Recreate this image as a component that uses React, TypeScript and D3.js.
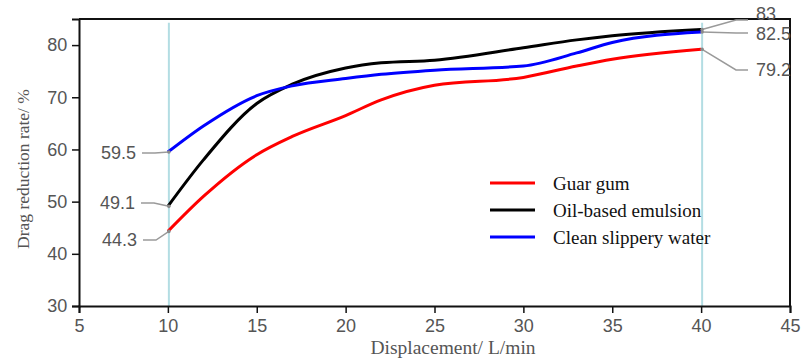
import React, { useEffect, useRef } from "react";
import * as d3 from "d3";

const flows = [10, 12, 15, 17, 20, 22, 25, 30, 33, 35, 40];
const guarGum = [44.3, 51, 59, 62.5, 66.5, 69.5, 72.3, 73.8, 76, 77.3, 79.2];
const oilEmulsion = [49.1, 58, 68.8, 72.5, 75.6, 76.6, 77.1, 79.5, 81, 81.8, 83];
const slipperyWater = [59.5, 64.5, 70.3, 72.2, 73.6, 74.4, 75.2, 76, 78.5, 80.5, 82.5];

const seriesNames = ["Guar gum", "Oil-based emulsion", "Clean slippery water"];
const seriesColors = ["#ff0000", "#000000", "#0000ff"];
const xTicks = [5, 10, 15, 20, 25, 30, 35, 40, 45];
const yTicks = [30, 40, 50, 60, 70, 80];
const markerFlows = [10, 40];

const W = 806;
const H = 358;

const App: React.FC = () => {
  const ref = useRef<SVGSVGElement>(null);

  useEffect(() => {
    if (!ref.current) return;
    const svg = d3.select(ref.current);
    svg.selectAll("*").remove();

    const x = d3.scaleLinear().domain([5, 45]).range([79, 790]);
    const y = d3.scaleLinear().domain([30, 85]).range([306, 19]);
    const all = [guarGum, oilEmulsion, slipperyWater];

    // frame (top + right)
    svg.append("path")
      .attr("d", `M${x(5)},${y(85)}H${x(45)}V${y(30)}`)
      .attr("fill", "none")
      .attr("stroke", "#111")
      .attr("stroke-width", 2);

    // light blue markers at 10 and 40
    svg.selectAll("line.mark")
      .data(markerFlows)
      .enter()
      .append("line")
      .attr("x1", (d) => x(d) + 1)
      .attr("x2", (d) => x(d) + 1)
      .attr("y1", y(84.3))
      .attr("y2", y(30))
      .attr("stroke", "#b3dde3")
      .attr("stroke-width", 2);

    const fontTick = "Arial, 'Liberation Sans', sans-serif";
    const fontTitle = "'Times New Roman', 'Liberation Serif', serif";

    const gx = svg.append("g")
      .attr("transform", `translate(0,${y(30)})`)
      .call(d3.axisBottom(x).tickValues(xTicks).tickSize(7).tickFormat(d3.format("d")));
    const gy = svg.append("g")
      .attr("transform", `translate(${x(5)},0)`)
      .call(d3.axisLeft(y).tickValues(yTicks).tickSize(7).tickFormat(d3.format("d")));
    [gx, gy].forEach((g) => {
      g.select(".domain").attr("stroke", "#111").attr("stroke-width", 2);
      g.selectAll(".tick line").attr("stroke", "#111").attr("stroke-width", 1.5);
      g.selectAll(".tick text")
        .attr("fill", "#555")
        .style("font-family", fontTick)
        .style("font-size", "18px");
    });
    gx.selectAll(".tick text").attr("dy", "0.9em");
    gy.selectAll(".tick text").attr("dx", "-0.1em");

    svg.append("text")
      .attr("x", 453)
      .attr("y", 354)
      .attr("text-anchor", "middle")
      .attr("fill", "#555")
      .style("font-family", fontTitle)
      .style("font-size", "19.5px")
      .text("Displacement/ L/min");

    svg.append("text")
      .attr("transform", "translate(29,169) rotate(-90)")
      .attr("text-anchor", "middle")
      .attr("fill", "#555")
      .style("font-family", fontTitle)
      .style("font-size", "17.5px")
      .text("Drag reduction rate/ %");

    const line = d3.line<number>()
      .x((_, i) => x(flows[i]))
      .y((d) => y(d))
      .curve(d3.curveMonotoneX);

    svg.selectAll("path.series")
      .data(all)
      .enter()
      .append("path")
      .attr("d", (d) => line(d))
      .attr("fill", "none")
      .attr("stroke", (_, i) => seriesColors[i])
      .attr("stroke-width", 3);

    // value callouts
    const callouts = [
      { v: guarGum[0], f: 10, lx: 143, ly: 240, ty: 240, text: "44.3", side: "left" },
      { v: oilEmulsion[0], f: 10, lx: 141, ly: 203, ty: 203, text: "49.1", side: "left" },
      { v: slipperyWater[0], f: 10, lx: 142, ly: 153, ty: 153, text: "59.5", side: "left" },
      { v: guarGum[guarGum.length - 1], f: 40, lx: 748, ly: 70, ty: 70, text: "79.2", side: "right" },
      { v: oilEmulsion[oilEmulsion.length - 1], f: 40, lx: 748, ly: 20, ty: 14, text: "83", side: "right" },
      { v: slipperyWater[slipperyWater.length - 1], f: 40, lx: 748, ly: 33, ty: 34, text: "82.5", side: "right" },
    ];
    callouts.forEach((c) => {
      const px = x(c.f) + 1;
      const py = y(c.v);
      const knee = c.side === "left" ? c.lx + 13 : c.lx - 12;
      svg.append("path")
        .attr("d", `M${px},${py}L${knee},${c.ly}L${c.lx},${c.ly}`)
        .attr("fill", "none")
        .attr("stroke", "#9a9a9a")
        .attr("stroke-width", 1.5);
      svg.append("circle")
        .attr("cx", px)
        .attr("cy", py)
        .attr("r", 1.8)
        .attr("fill", "#8a8a8a");
      svg.append("text")
        .attr("x", c.side === "left" ? c.lx - 6 : c.lx + 8)
        .attr("y", c.ty)
        .attr("dy", "0.35em")
        .attr("text-anchor", c.side === "left" ? "end" : "start")
        .attr("fill", "#555")
        .style("font-family", fontTick)
        .style("font-size", "18px")
        .text(c.text);
    });

    // legend
    const legend = svg.append("g").attr("transform", "translate(490,183)");
    seriesNames.forEach((name, i) => {
      const row = legend.append("g").attr("transform", `translate(0,${i * 27})`);
      row.append("line")
        .attr("x1", 0)
        .attr("x2", 45)
        .attr("stroke", seriesColors[i])
        .attr("stroke-width", 3);
      row.append("text")
        .attr("x", 63)
        .attr("dy", "0.35em")
        .attr("fill", "#111")
        .style("font-family", fontTitle)
        .style("font-size", "19px")
        .text(name);
    });
  }, []);

  return (
    <svg
      ref={ref}
      width={W}
      height={H}
      style={{ position: "absolute", left: 0, top: 0, background: "#fff" }}
    />
  );
};

export default App;
